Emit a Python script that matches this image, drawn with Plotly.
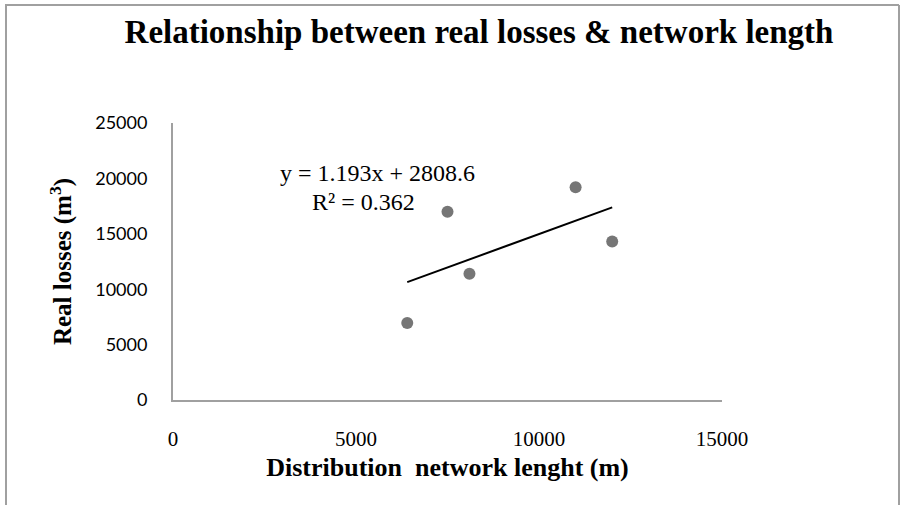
import numpy as np
import plotly.graph_objects as go

network_length = [6400, 7500, 8100, 11000, 12000]
real_losses = [6950, 17000, 11400, 19200, 14300]
x_ticks = [0, 5000, 10000, 15000]
x_tick_labels = ["0", "5000", "10000", "15000"]
y_ticks = [0, 5000, 10000, 15000, 20000, 25000]
y_tick_labels = ["0", "5000", "10000", "15000", "20000", "25000"]
equation_text = "y = 1.193x + 2808.6"
r2_text = "R² = 0.362"

W, H = 900, 505
ML, MR, MT, MB = 173, 178, 123, 105

slope, intercept = np.polyfit(network_length, real_losses, 1)
tx = [min(network_length), max(network_length)]
ty = [slope * v + intercept for v in tx]

serif = "Liberation Serif, Times New Roman, serif"

fig = go.Figure()
fig.add_trace(go.Scatter(x=network_length, y=real_losses, mode="markers",
                         marker=dict(color="#767676", size=12), showlegend=False))
fig.add_trace(go.Scatter(x=tx, y=ty, mode="lines",
                         line=dict(color="black", width=2), showlegend=False))

pw = W - ML - MR
ph = H - MT - MB
def px(xp):
    return (xp - ML) / pw
def py(yp):
    return (H - MB - yp) / ph

# outer chart border (top, left, right)
border = dict(color="#a0a0a0", width=2)
fig.add_shape(type="line", xref="paper", yref="paper", x0=px(5), x1=px(899), y0=py(5), y1=py(5), line=border)
fig.add_shape(type="line", xref="paper", yref="paper", x0=px(6), x1=px(6), y0=py(5), y1=py(505), line=border)
fig.add_shape(type="line", xref="paper", yref="paper", x0=px(899), x1=px(899), y0=py(5), y1=py(505), line=border)

fig.add_annotation(x=px(377), y=py(158), xref="paper", yref="paper", text=equation_text,
                   showarrow=False, font=dict(family=serif, size=24, color="black"))
fig.add_annotation(x=px(363), y=py(187), xref="paper", yref="paper", text=r2_text,
                   showarrow=False, font=dict(family=serif, size=24, color="black"))

fig.update_layout(
    width=W, height=H,
    margin=dict(l=ML, r=MR, t=MT, b=MB),
    paper_bgcolor="white", plot_bgcolor="white",
    title=dict(text="<b>Relationship between real losses & network length</b>",
               x=479 / W, xanchor="center", y=1 - 31 / H, yanchor="middle",
               font=dict(family=serif, size=33, color="black")),
    xaxis=dict(range=[0, 15000], tickvals=x_ticks, ticktext=x_tick_labels,
               showgrid=False, zeroline=False,
               showline=True, linecolor="#a0a0a0", linewidth=2, ticks="",
               ticklabelstandoff=19,
               tickfont=dict(family=serif, size=21, color="black"),
               title=dict(text="<b>Distribution  network lenght (m)</b>", standoff=8,
                          font=dict(family=serif, size=26, color="black"))),
    yaxis=dict(range=[0, 25000], tickvals=y_ticks, ticktext=y_tick_labels,
               showgrid=False, zeroline=False,
               showline=True, linecolor="#a0a0a0", linewidth=2, ticks="",
               ticklabelstandoff=20,
               tickfont=dict(family="Lato, Carlito, sans-serif", size=18, color="black"),
               title=dict(text="<b>Real losses (m<sup>3</sup>)</b>", standoff=16,
                          font=dict(family=serif, size=25, color="black"))),
)

fig.write_html("out.html")
